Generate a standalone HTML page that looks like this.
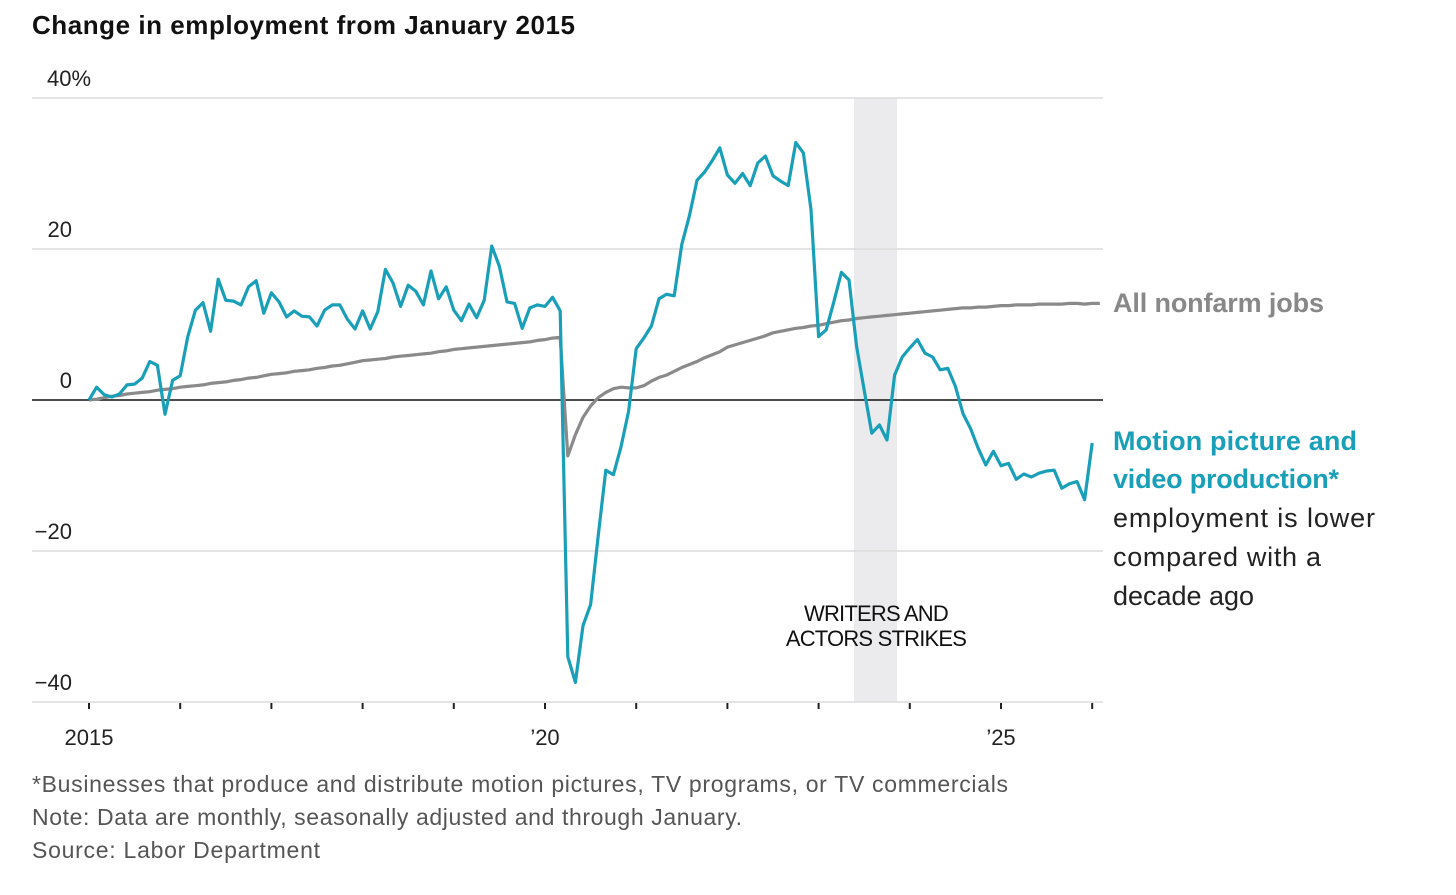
<!DOCTYPE html>
<html><head><meta charset="utf-8"><style>
body{margin:0;background:#fff;}
svg{display:block;font-family:"Liberation Sans",sans-serif;}
</style></head><body>
<svg id="chart" width="1456" height="895" viewBox="0 0 1456 895">
<text x="32" y="34" font-size="26" font-weight="bold" fill="#111" textLength="543">Change in employment from January 2015</text>
<rect x="854" y="98" width="43" height="604" fill="#ebebee"/>
<g id="grid"></g>
<g id="axes"></g>
<text text-anchor="middle" font-size="22" fill="#111" style="letter-spacing:-0.8px"><tspan x="876" y="621">WRITERS AND</tspan><tspan x="876" y="646">ACTORS STRIKES</tspan></text>
<g id="lines"></g>
<text x="1113" y="312" font-size="27" font-weight="bold" fill="#888" textLength="211">All nonfarm jobs</text>
<g font-size="27">
<text x="1113" y="450" font-weight="bold" fill="#1a9fb8" textLength="244">Motion picture and</text>
<text x="1113" y="488" font-weight="bold" fill="#1a9fb8" textLength="226">video production*</text>
<text x="1113" y="527" fill="#222" textLength="262">employment is lower</text>
<text x="1113" y="566" fill="#222" textLength="208">compared with a</text>
<text x="1113" y="605" fill="#222" textLength="141">decade ago</text>
</g>
<g font-size="23" fill="#555">
<text x="32" y="792" textLength="976">*Businesses that produce and distribute motion pictures, TV programs, or TV commercials</text>
<text x="32" y="825" textLength="710">Note: Data are monthly, seasonally adjusted and through January.</text>
<text x="32" y="858" textLength="288">Source: Labor Department</text>
</g>
</svg>
<script>
const yTicks=[40,20,0,-20,-40];
const yTickLabels=["40","20","0","\u221220","\u221240"];
const xTickYears=[2015,2016,2017,2018,2019,2020,2021,2022,2023,2024,2025,2026];
const xLabelYears=[2015,2020,2025];
const xLabels=["2015","\u201920","\u201925"];
const motion=[0,1.7,0.7,0.4,0.8,2.0,2.1,2.9,5.1,4.6,-1.9,2.6,3.2,8.4,11.9,12.9,9.1,16.0,13.2,13.1,12.6,15.0,15.8,11.5,14.2,13.0,11.0,11.8,11.1,11.0,9.8,11.9,12.6,12.6,10.7,9.4,11.8,9.4,11.7,17.3,15.5,12.4,15.2,14.4,12.6,17.1,13.4,15.0,11.9,10.5,12.7,10.9,13.2,20.4,17.7,13.0,12.8,9.5,12.2,12.6,12.4,13.6,11.8,-34.0,-37.4,-29.9,-27.1,-18.0,-9.3,-9.9,-6.2,-1.5,6.8,8.2,9.8,13.4,14.0,13.8,20.6,24.4,29.1,30.2,31.7,33.4,29.8,28.7,30.0,28.4,31.4,32.3,29.7,29.0,28.4,34.1,32.7,25.2,8.4,9.3,13.0,16.9,15.9,7.1,1.3,-4.4,-3.3,-5.3,3.3,5.7,6.9,8.0,6.2,5.7,4.0,4.2,1.8,-1.8,-3.8,-6.4,-8.6,-6.8,-8.7,-8.4,-10.5,-9.8,-10.2,-9.7,-9.4,-9.3,-11.7,-11.1,-10.8,-13.2,-5.7];
const nonfarm=[0,0.1,0.3,0.5,0.6,0.8,0.9,1.0,1.1,1.3,1.4,1.5,1.7,1.8,1.9,2.0,2.2,2.3,2.4,2.6,2.7,2.9,3.0,3.2,3.4,3.5,3.6,3.8,3.9,4.0,4.2,4.3,4.5,4.6,4.8,5.0,5.2,5.3,5.4,5.5,5.7,5.8,5.9,6.0,6.1,6.2,6.4,6.5,6.7,6.8,6.9,7.0,7.1,7.2,7.3,7.4,7.5,7.6,7.7,7.9,8.0,8.2,8.3,-7.4,-4.6,-2.3,-0.8,0.3,1.0,1.5,1.7,1.6,1.6,1.9,2.5,3.0,3.3,3.8,4.3,4.7,5.1,5.6,6.0,6.4,7.0,7.3,7.6,7.9,8.2,8.5,8.9,9.1,9.3,9.5,9.6,9.8,9.9,10.1,10.3,10.5,10.6,10.8,10.9,11.0,11.1,11.2,11.3,11.4,11.5,11.6,11.7,11.8,11.9,12.0,12.1,12.2,12.2,12.3,12.3,12.4,12.5,12.5,12.6,12.6,12.6,12.7,12.7,12.7,12.7,12.8,12.8,12.7,12.8,12.8];
const NS="http://www.w3.org/2000/svg";
const xM=m=>89+m*(1001-89)/120;
const xYear=y=>xM((y-2015)*12);
const yV=v=>400-v*(302/40);
function mk(tag,attrs,parent){const e=document.createElementNS(NS,tag);for(const k in attrs)e.setAttribute(k,attrs[k]);parent.appendChild(e);return e;}
const grid=document.getElementById('grid'),axes=document.getElementById('axes'),lines=document.getElementById('lines');
yTicks.forEach((t,i)=>{
  if(t!==0){const l=mk('line',{x1:32,x2:1103,y1:yV(t),y2:yV(t),stroke:'#dcdcdc','stroke-width':1.5},grid);
  
  }
  const tx=mk('text',{x:72,y:yV(t)-12,'text-anchor':'end','font-size':22,fill:'#222'},axes);
  tx.textContent=yTickLabels[i];
  if(i===0){const ts=mk('tspan',{},tx);ts.textContent='%';tx.setAttribute('text-anchor','start');tx.setAttribute('x',47);}
  
  
});
xTickYears.forEach(y=>{const t=mk('line',{x1:xYear(y),x2:xYear(y),y1:703,y2:709,stroke:'#222','stroke-width':2},axes);
  
  });
xLabelYears.forEach((y,i)=>{const t=mk('text',{x:xYear(y),y:745,'text-anchor':'middle','font-size':22,fill:'#222'},axes);t.textContent=xLabels[i];
  
  });
const zl=mk('line',{x1:32,x2:1103,y1:yV(0),y2:yV(0),stroke:'#111','stroke-width':1.5},grid);


function path(arr){return arr.map((v,i)=>(i?'L':'M')+xM(i).toFixed(1)+','+yV(v).toFixed(1)).join('');}
const p1=mk('path',{d:path(nonfarm),fill:'none',stroke:'#8a8a8a','stroke-width':3.2,'stroke-linejoin':'round'},lines);


const p2=mk('path',{d:path(motion),fill:'none',stroke:'#1a9fb8','stroke-width':3.2,'stroke-linejoin':'round'},lines);


</script>
</body></html>
